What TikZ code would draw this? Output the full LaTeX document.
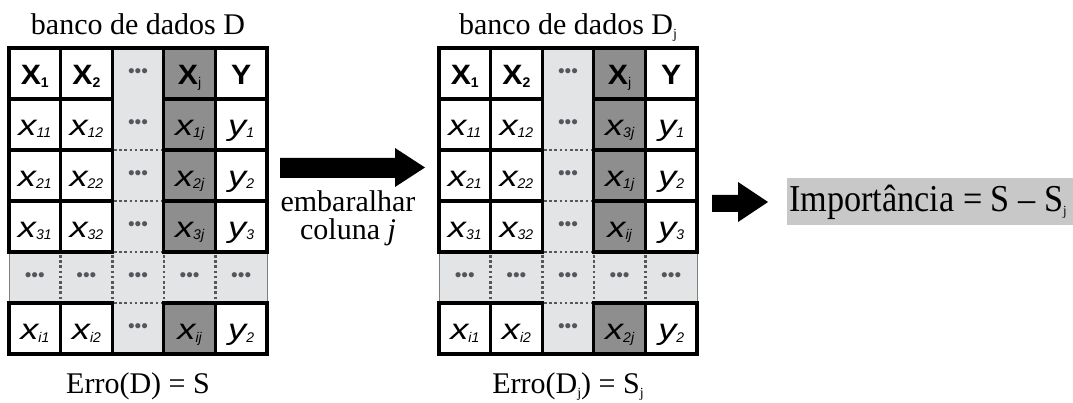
\documentclass[tikz,border=0pt]{standalone}
\usepackage{fontspec}
\setmainfont{Liberation Serif}
\newfontfamily\arial{Liberation Sans}
\definecolor{darkcell}{RGB}{142,142,142}
\definecolor{lightcell}{RGB}{227,228,230}
\definecolor{dotgray}{RGB}{85,85,92}
\definecolor{impbox}{RGB}{200,200,200}
\newcommand{\hdr}[2]{{\arial\bfseries\scalebox{1.08}[1]{\fontsize{28}{28}\selectfont #1}\raisebox{-3pt}{\fontsize{14}{14}\selectfont #2}}}
\newcommand{\ent}[2]{{\arial\itshape\scalebox{1.25}[1]{\fontsize{29}{29}\selectfont #1}\raisebox{-2.5pt}{\fontsize{14}{14}\selectfont #2}}}
\newcommand{\dts}{{\arial\fontsize{19}{19}\selectfont\color{dotgray}•••}}
\newcommand{\sub}[1]{\raisebox{-4pt}{\fontsize{14}{14}\selectfont #1}}
\tikzset{
  cellbox/.style={draw=black, line width=3.2pt},
  dotline/.style={draw=dotgray, line width=2.6pt, dash pattern=on 2.6pt off 2.6pt},
  ct/.style={inner sep=0pt, anchor=base},
  dt/.style={inner sep=0pt, anchor=center},
  serif/.style={inner sep=0pt, anchor=base, font=\fontsize{30}{30}\selectfont},
  blockarrow/.style={fill=black}
}
% #1 offset, #2 name, #3..#6 column-j entries for rows 2,3,4,6
\newcommand{\datatable}[6]{%
\begin{scope}[shift={(#1,0)}]
  \fill[lightcell] (112.2,48) rectangle (163.8,354);
  \fill[lightcell] (9,252) rectangle (267,303);
  \foreach \ra/\rb in {48/99, 99/150, 150/201, 201/252, 303/354}
    \fill[darkcell] (163.8,\ra) rectangle (215.4,\rb);
  \foreach \yy in {150,201,252,303}
    \draw[dotline] (114,\yy) -- (162,\yy);
  \foreach \xx in {60.6,112.2,163.8,215.4}
    \draw[dotline] (\xx,255) -- (\xx,301);
  \draw[gray, line width=0.8pt] (9,252) -- (9,303) (267,252) -- (267,303);
  \foreach \xa/\xb in {9/60.6, 60.6/112.2, 163.8/215.4, 215.4/267}
    \foreach \ya/\yb in {48/99, 99/150, 150/201, 201/252, 303/354}
      \draw[cellbox] (\xa,\ya) rectangle (\xb,\yb);
  \draw[cellbox] (110.6,48) -- (165.4,48) (110.6,354) -- (165.4,354);
  % header
  \node[ct] (#2-1-1) at (34.8,84.5) {\hdr{X}{1}};
  \node[ct] (#2-1-2) at (86.4,84.5) {\hdr{X}{2}};
  \node[dt] (#2-1-3) at (138,73.5) {\dts};
  \node[ct] (#2-1-4) at (189.6,84.5) {\hdr{X}{\mdseries j}};
  \node[ct] (#2-1-5) at (241.2,84.5) {\hdr{Y}{}};
  % row 2
  \node[ct] (#2-2-1) at (34.8,135.5) {\ent{x}{11}};
  \node[ct] (#2-2-2) at (86.4,135.5) {\ent{x}{12}};
  \node[dt] (#2-2-3) at (138,124.5) {\dts};
  \node[ct] (#2-2-4) at (189.6,135.5) {#3};
  \node[ct] (#2-2-5) at (241.2,135.5) {\ent{y}{1}};
  % row 3
  \node[ct] (#2-3-1) at (34.8,186.5) {\ent{x}{21}};
  \node[ct] (#2-3-2) at (86.4,186.5) {\ent{x}{22}};
  \node[dt] (#2-3-3) at (138,175.5) {\dts};
  \node[ct] (#2-3-4) at (189.6,186.5) {#4};
  \node[ct] (#2-3-5) at (241.2,186.5) {\ent{y}{2}};
  % row 4
  \node[ct] (#2-4-1) at (34.8,237.5) {\ent{x}{31}};
  \node[ct] (#2-4-2) at (86.4,237.5) {\ent{x}{32}};
  \node[dt] (#2-4-3) at (138,226.5) {\dts};
  \node[ct] (#2-4-4) at (189.6,237.5) {#5};
  \node[ct] (#2-4-5) at (241.2,237.5) {\ent{y}{3}};
  % row 5
  \foreach \cx [count=\ci] in {34.8,86.4,138,189.6,241.2}
    \node[dt] (#2-5-\ci) at (\cx,277.5) {\dts};
  % row 6
  \node[ct] (#2-6-1) at (34.8,339.5) {\ent{x}{i1}};
  \node[ct] (#2-6-2) at (86.4,339.5) {\ent{x}{i2}};
  \node[dt] (#2-6-3) at (138,328.5) {\dts};
  \node[ct] (#2-6-4) at (189.6,339.5) {#6};
  \node[ct] (#2-6-5) at (241.2,339.5) {\ent{y}{2}};
\end{scope}}
\begin{document}
\begin{tikzpicture}[x=1pt,y=-1pt]
\useasboundingbox (0,0) rectangle (1073,403);
\datatable{0}{A}{\ent{x}{1j}}{\ent{x}{2j}}{\ent{x}{3j}}{\ent{x}{ij}}
\datatable{430}{B}{\ent{x}{3j}}{\ent{x}{1j}}{\ent{x}{ij}}{\ent{x}{2j}}
% titles
\node[serif] (titleA) at (138,35) {banco de dados D};
\node[serif] (titleB) at (568,35) {banco de dados D\sub{j}};
\node[serif] (erroA) at (138,393) {Erro(D) = S};
\node[serif] (erroB) at (568,393) {Erro(D\sub{j}) = S\sub{j}};
% shuffle arrow and label
\fill[blockarrow] (280,158) -- (395,158) -- (395,148) -- (425,167.5) -- (395,187) -- (395,178) -- (280,178) -- cycle;
\node[serif] (emb) at (348,212) {embaralhar};
\node[serif] (col) at (348,240) {coluna \textit{j}};
% result arrow
\fill[blockarrow] (712,195) -- (738,195) -- (738,182) -- (768,202) -- (738,222) -- (738,212) -- (712,212) -- cycle;
\fill[impbox] (787,178) rectangle (1073,225);
\node[inner sep=0pt, anchor=base west] (imp) at (789,212) {\scalebox{0.9}[1]{\fontsize{38}{38}\selectfont Importância = S – S\sub{j}}};
\end{tikzpicture}
\end{document}
